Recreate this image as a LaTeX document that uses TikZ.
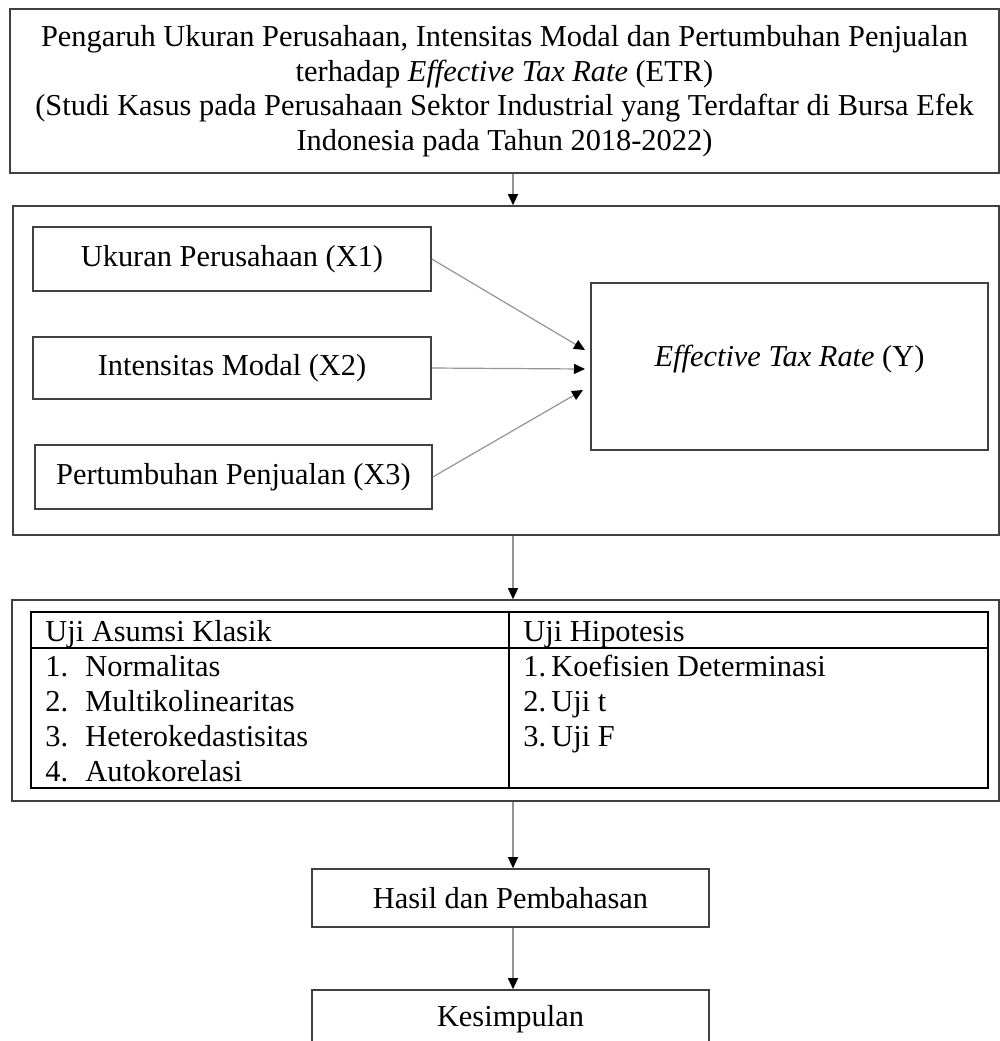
\documentclass[tikz,border=0pt]{standalone}
\usepackage{fontspec}
\setmainfont{Liberation Serif}
\usetikzlibrary{positioning, arrows.meta}

\tikzset{
    txt/.style={font=\fontsize{15.2}{17.25}\selectfont},
    bx/.style={draw=black!75, line width=0.8pt, inner sep=0pt},
    cell/.style={inner sep=0pt, anchor=base west},
    flow/.style={draw=black!42, line width=0.6pt, -{Triangle[length=5.5pt,width=5pt,color=black]}},
}

\begin{document}
\begin{tikzpicture}[x=0.5pt, y=-0.5pt, every node/.style={txt}]
        \path[use as bounding box, clip] (0,0) rectangle (1000,1041);
        % Title
        \node[bx, minimum width=494.5pt, minimum height=82pt, align=center] (title) at (504.5,91)
            {Pengaruh Ukuran Perusahaan, Intensitas Modal dan Pertumbuhan Penjualan\\
             terhadap \textit{Effective Tax Rate} (ETR)\\
             (Studi Kasus pada Perusahaan Sektor Industrial yang Terdaftar di Bursa Efek\\
             Indonesia pada Tahun 2018-2022)};
        % Model
        \node[bx, minimum width=493pt, minimum height=164.5pt] (frame2) at (506,370.5) {};
        \node[bx, minimum width=199pt, minimum height=32pt] (x1) at (232,259) {Ukuran Perusahaan (X1)};
        \node[bx, minimum width=199pt, minimum height=31pt] (x2) at (232,368) {Intensitas Modal (X2)};
        \node[bx, minimum width=198.5pt, minimum height=32pt] (x3) at (233.5,477) {Pertumbuhan Penjualan (X3)};
        \node[bx, minimum width=198.5pt, minimum height=83.5pt, text height=10pt, text depth=10pt] (y) at (789.5,366.5)
            {\textit{Effective Tax Rate} (Y)};
        \coordinate (in1) at (585,350);
        \coordinate (in2) at (585,369);
        \coordinate (in3) at (583,390);
        \draw[flow] (x1.east) -- (in1);
        \draw[flow] (x2.east) -- (in2);
        \draw[flow] (x3.east) -- (in3);
        % Tests
        \node[bx, minimum width=493.5pt, minimum height=100.5pt] (frame3) at (505.5,700.5) {};
        \draw[line width=0.7pt] (31,612) rectangle (988,788);
        \draw[line width=0.7pt] (31,648) -- (988,648);
        \draw[line width=0.7pt] (509,612) -- (509,788);
        \node[cell] (asumsi) at (45,641) {Uji Asumsi Klasik};
        \node[cell] (hipo) at (523,641) {Uji Hipotesis};
        \foreach \t [count=\k] in {Normalitas, Multikolinearitas, Heterokedastisitas, Autokorelasi} {
            \node[cell] (na\k) at (45,{641+35*\k}) {\k.};
            \node[cell] (ta\k) at (85,{641+35*\k}) {\t};
        }
        \foreach \t [count=\k] in {Koefisien Determinasi, Uji t, Uji F} {
            \node[cell] (nb\k) at (523,{641+35*\k}) {\k.};
            \node[cell] (tb\k) at (551,{641+35*\k}) {\t};
        }
        % Result
        \node[bx, minimum width=198.5pt, minimum height=29pt] (hasil) at (510.5,898) {Hasil dan Pembahasan};
        \node[bx, minimum width=198.5pt, minimum height=29pt] (kesim) at (510.5,1019) {Kesimpulan};
        % Vertical arrows
        \coordinate (spine) at (513,0);
        \draw[flow] (title.south -| spine) -- (frame2.north -| spine);
        \draw[flow] (frame2.south -| spine) -- (frame3.north -| spine);
        \draw[flow] (frame3.south -| spine) -- (hasil.north -| spine);
        \draw[flow] (hasil.south -| spine) -- (kesim.north -| spine);
    \end{tikzpicture}
\end{document}
